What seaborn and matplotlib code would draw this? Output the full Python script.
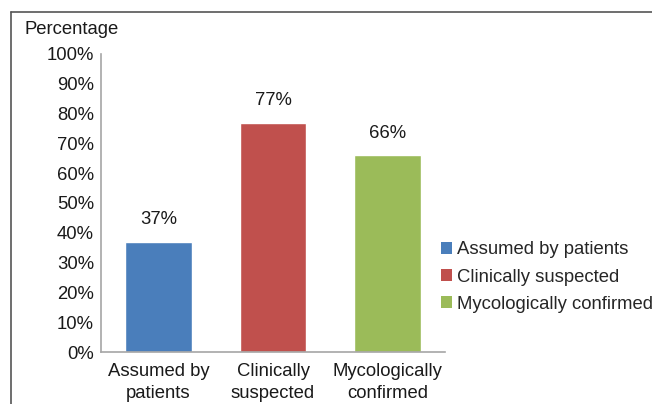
import matplotlib.pyplot as plt
import seaborn as sns
import pandas as pd
from matplotlib.patches import Patch
from matplotlib.lines import Line2D

categories = ['Assumed by patients', 'Clinically suspected', 'Mycologically confirmed']
tick_labels = ['Assumed by\npatients', 'Clinically\nsuspected', 'Mycologically\nconfirmed']
values = [37, 77, 66]
colors = ['#4a7ebb', '#c0504d', '#9bbb59']

sns.set_style('white')
plt.rcParams['font.family'] = ['Liberation Sans', 'DejaVu Sans']
fs = 13.3
txt = '#1a1a1a'

df = pd.DataFrame({'group': categories, 'pct': values})

fig = plt.figure(figsize=(6.52, 4.04), dpi=100)
ax = fig.add_axes([0.155, 0.1287, 0.5275, 0.7377])
sns.barplot(data=df, x='group', y='pct', hue='group', palette=colors,
            width=0.58, legend=False, ax=ax, saturation=1)

ax.set_ylim(0, 100)
ax.set_yticks(range(0, 101, 10))
ax.set_yticklabels([f'{v}%' for v in range(0, 101, 10)], fontsize=fs, color=txt)
ax.set_xticks(range(len(categories)))
ax.set_xticklabels(tick_labels, fontsize=fs, color=txt, linespacing=1.4)
ax.tick_params(length=0, pad=5)
ax.tick_params(axis='x', pad=8)
ax.set_xlabel('')
ax.set_ylabel('')
for s in ['top', 'right']:
    ax.spines[s].set_visible(False)
for s in ['left', 'bottom']:
    ax.spines[s].set_color('#a6a6a6')
    ax.spines[s].set_linewidth(1.2)

for i, v in enumerate(values):
    ax.text(i, v + 4.5, f'{v}%', ha='center', va='bottom', fontsize=fs, color=txt)

fig.text(0.038, 0.926, 'Percentage', fontsize=fs, color=txt, va='center')

handles = [Patch(facecolor=c, edgecolor='none') for c in colors]
fig.legend(handles, categories, loc='center left', bbox_to_anchor=(0.677, 0.314),
           frameon=False, fontsize=fs, handlelength=0.6, handleheight=0.6,
           handletextpad=0.25, labelspacing=0.55, borderpad=0, borderaxespad=0)

# outer chart frame (left and top edges)
fig.add_artist(Line2D([0.017, 0.017], [0, 0.970], color='#555555', lw=1.2))
fig.add_artist(Line2D([0.017, 1.0], [0.970, 0.970], color='#555555', lw=1.2))

fig.savefig('out.png', dpi=100)
